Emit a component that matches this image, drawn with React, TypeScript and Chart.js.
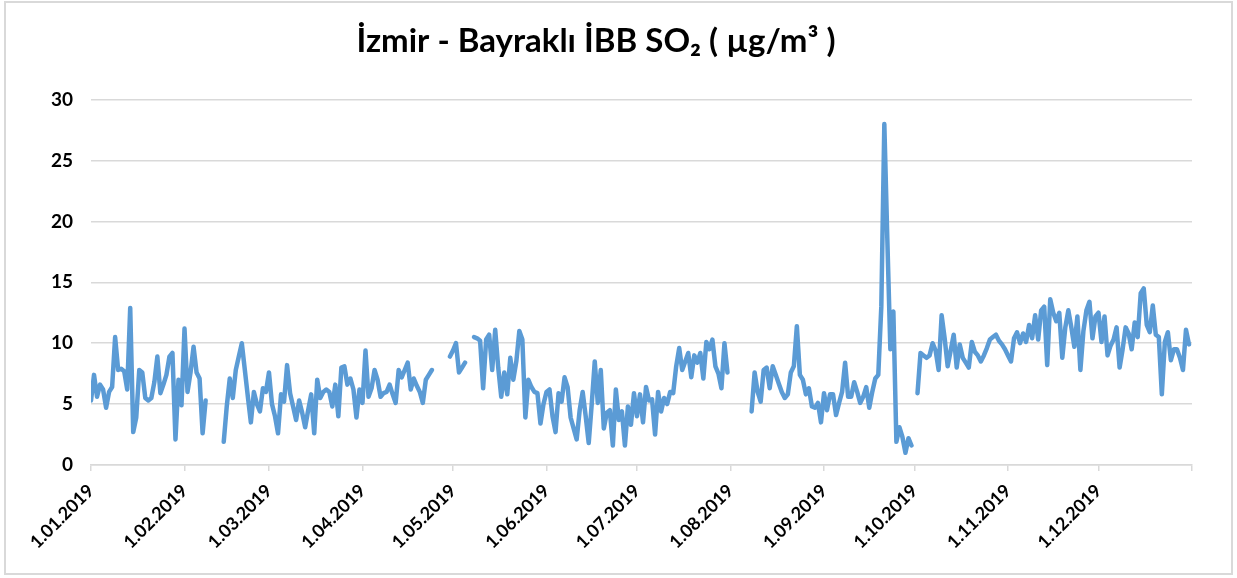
import React, { useEffect, useRef } from "react";
import { Chart, registerables } from "chart.js";

Chart.register(...registerables);

// Daily SO2 values (µg/m³), 2019. null = no measurement.
const jan = [5.3, 7.4, 5.6, 6.6, 6.2, 4.7, 6.0, 6.4, 10.5, 7.8, 7.9, 7.7, 6.2, 12.9, 2.7, 3.9, 7.8, 7.6, 5.5, 5.3, 5.5, 6.8, 8.9, 5.9, 6.6, 7.4, 8.9, 9.2, 2.1, 7.0, 4.9];
const feb = [11.2, 6.0, 7.6, 9.7, 7.6, 7.1, 2.6, 5.3, null, null, null, null, null, 1.9, 4.8, 7.1, 5.5, 7.8, 8.9, 10.0, 7.8, 5.6, 3.5, 6.0, 5.0, 4.4, 6.3, 6.0];
const mar = [7.6, 5.0, 4.0, 2.6, 5.8, 5.2, 8.2, 5.9, 4.8, 3.7, 5.3, 4.3, 3.1, 4.5, 5.8, 2.6, 7.0, 5.5, 6.0, 6.2, 6.0, 4.8, 6.6, 4.0, 8.0, 8.1, 6.6, 7.1, 6.2, 3.9, 6.2];
const apr = [5.1, 9.4, 5.6, 6.3, 7.8, 7.0, 5.6, 5.9, 6.0, 6.6, 5.8, 5.1, 7.8, 7.2, 7.8, 8.4, 6.2, 7.1, 6.5, 6.0, 5.1, 7.0, 7.4, 7.8, null, null, null, null, null, 8.9];
const may = [9.4, 10.0, 7.6, 8.0, 8.4, null, null, 10.5, 10.4, 10.2, 6.3, 10.3, 10.7, 7.8, 11.1, 8.0, 5.6, 7.6, 5.8, 8.8, 7.0, 8.5, 11.0, 10.3, 3.9, 7.0, 6.4, 6.0, 5.9, 3.4, 5.0];
const jun = [6.0, 6.2, 4.0, 2.7, 5.9, 5.2, 7.2, 6.4, 3.9, 3.0, 2.1, 4.5, 6.0, 4.0, 1.8, 5.0, 8.5, 5.1, 7.8, 3.0, 4.3, 4.5, 1.6, 6.2, 3.7, 4.4, 1.6, 4.8, 3.3, 5.9];
const jul = [4.0, 5.8, 3.5, 6.4, 5.3, 5.4, 2.5, 6.0, 4.4, 5.5, 5.0, 6.0, 5.9, 8.1, 9.6, 7.8, 8.5, 9.2, 7.2, 9.0, 8.4, 9.2, 7.1, 10.1, 9.5, 10.3, 8.1, 7.5, 6.3, 10.0, 7.6];
const aug = [null, null, null, null, null, null, null, 4.4, 7.6, 6.0, 5.2, 7.8, 8.0, 6.3, 8.1, 7.4, 6.7, 6.0, 5.5, 5.8, 7.6, 8.1, 11.4, 7.4, 7.0, 5.8, 6.3, 4.8, 4.7, 5.1, 3.5];
const sep = [5.9, 4.5, 5.8, 5.8, 4.1, 5.1, 6.0, 8.4, 5.6, 5.6, 6.8, 6.0, 5.1, 5.6, 6.4, 4.7, 6.0, 7.1, 7.4, 13.0, 28.0, 18.5, 9.5, 12.6, 1.9, 3.1, 2.3, 1.0, 2.2, 1.6];
const oct = [null, 5.9, 9.2, 9.0, 8.8, 9.0, 10.0, 9.4, 7.8, 12.3, 10.4, 8.1, 9.4, 10.7, 8.0, 9.9, 8.8, 8.4, 8.0, 10.1, 9.3, 9.0, 8.5, 9.0, 9.6, 10.3, 10.5, 10.7, 10.2, 9.9, 9.5];
const nov = [9.0, 8.5, 10.4, 10.9, 10.0, 10.8, 10.1, 11.5, 10.4, 12.3, 10.3, 12.7, 13.0, 8.2, 13.6, 12.5, 11.8, 12.5, 8.8, 11.3, 12.7, 11.3, 9.7, 12.2, 7.8, 11.0, 12.7, 13.4, 10.4, 12.2];
const dec = [12.5, 10.1, 12.2, 9.0, 9.8, 10.3, 11.3, 8.0, 9.5, 11.3, 10.8, 9.5, 11.7, 10.5, 14.1, 14.5, 11.5, 10.9, 13.1, 10.7, 10.5, 5.8, 10.1, 10.9, 8.6, 9.5, 9.5, 8.8, 7.8, 11.1, 9.9];

const so2: (number | null)[] = [...jan, ...feb, ...mar, ...apr, ...may, ...jun, ...jul, ...aug, ...sep, ...oct, ...nov, ...dec];

// Tick positions (day index of the 1st of each month) and their labels
const monthStartDays = [0, 31, 59, 90, 120, 151, 181, 212, 243, 273, 304, 334, 365];
const monthLabels = ["1.01.2019", "1.02.2019", "1.03.2019", "1.04.2019", "1.05.2019", "1.06.2019", "1.07.2019", "1.08.2019", "1.09.2019", "1.10.2019", "1.11.2019", "1.12.2019", ""];

const yTicks = [0, 5, 10, 15, 20, 25, 30];

const TITLE = "İzmir - Bayraklı İBB SO₂ ( µg/m³ )";
const FONT = "Lato, 'Open Sans', sans-serif";

export default function App() {
  const ref = useRef<HTMLCanvasElement>(null);

  useEffect(() => {
    document.body.style.margin = "0";
    if (!ref.current) return;
    const chart = new Chart(ref.current, {
      type: "line",
      data: {
        datasets: [
          {
            data: so2.map((v, i) => ({ x: i, y: v })),
            borderColor: "#5b9bd5",
            backgroundColor: "#5b9bd5",
            borderWidth: 4.5,
            pointRadius: 0,
            pointHoverRadius: 0,
            tension: 0,
            spanGaps: false,
            fill: false,
            borderJoinStyle: "round",
            borderCapStyle: "round",
          } as any,
        ],
      },
      options: {
        responsive: false,
        animation: false,
        events: [],
        layout: { padding: { left: 0, right: 45, top: 0, bottom: 0 } },
        plugins: {
          legend: { display: false },
          tooltip: { enabled: false },
          title: {
            display: true,
            text: TITLE,
            color: "#000",
            font: { family: FONT, size: 33, weight: "bold" },
            padding: { top: 22, bottom: 38 },
          },
        },
        scales: {
          x: {
            type: "linear",
            min: 0,
            max: 365,
            afterBuildTicks: (s: any) => {
              s.ticks = monthStartDays.map((v) => ({ value: v }));
            },
            afterFit: (s: any) => {
              s.height = 113;
            },
            ticks: {
              autoSkip: false,
              minRotation: 45,
              maxRotation: 45,
              padding: 9,
              color: "#000",
              font: { family: FONT, size: 18, weight: "bold" },
              callback: (v: any) => {
                const i = monthStartDays.indexOf(Number(v));
                return i >= 0 ? monthLabels[i] : "";
              },
            },
            grid: {
              drawOnChartArea: false,
              drawTicks: true,
              tickLength: 6,
              color: "#d9d9d9",
              lineWidth: 1.5,
            },
            border: { display: true, color: "#d9d9d9", width: 1.5 },
          },
          y: {
            min: 0,
            max: 30,
            afterBuildTicks: (s: any) => {
              s.ticks = yTicks.map((v) => ({ value: v }));
            },
            afterFit: (s: any) => {
              s.width = 91;
            },
            ticks: {
              padding: 18,
              color: "#000",
              font: { family: FONT, size: 19, weight: "bold" },
            },
            grid: { color: "#d9d9d9", lineWidth: 1.5, drawTicks: false },
            border: { display: false },
          },
        },
      },
    });
    return () => chart.destroy();
  }, []);

  return (
    <div style={{ position: "absolute", left: 0, top: 0, width: 1237, height: 578, background: "#fff" }}>
      <div
        style={{
          position: "absolute",
          left: 4,
          top: 1,
          width: 1229,
          height: 574,
          boxSizing: "border-box",
          border: "2px solid #d9d9d9",
        }}
      />
      <canvas ref={ref} width={1237} height={578} style={{ position: "absolute", left: 0, top: 0 }} />
    </div>
  );
}
